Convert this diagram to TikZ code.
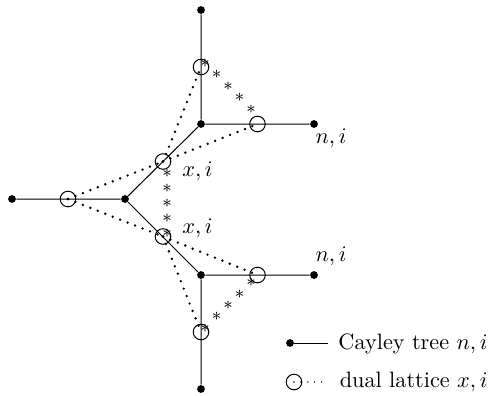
\documentclass[tikz,border=0pt]{standalone}
\usepackage{amsmath,amssymb}

\begin{document}
\begin{tikzpicture}[x=0.0158cm,y=0.0158cm,line width=0.45pt,
  site/.style={circle,fill=black,inner sep=0pt,minimum size=3.5pt},
  dual/.style={draw,circle,inner sep=0pt,minimum size=7pt},
  dualbond/.style={line width=1.2pt,line cap=round,dash pattern=on 0pt off 3.6pt},
  legbond/.style={line width=0.7pt,line cap=round,dash pattern=on 0pt off 3.1pt},
  ast/.style={inner sep=0pt,font=\footnotesize}]
\path[use as bounding box] (0,0) rectangle (488,395);
% Cayley tree
\begin{scope}
\node[site] (nl) at (12,196) {}; \node[site] (nc) at (125,196) {};
\node[site] (nu) at (201,271) {}; \node[site] (nd) at (201,120) {};
\node[site] (nt) at (201,385) {}; \node[site] (nb) at (201,6) {};
\node[site] (nur) at (314,271) {}; \node[site] (ndr) at (314,120) {};
\draw (nl)--(nc) (nc)--(nu) (nc)--(nd) (nu)--(nt) (nu)--(nur) (nd)--(nb) (nd)--(ndr);
\node (lnu) at (331,256.5) {$n,i$};
\node (lnd) at (331,138.5) {$n,i$};
\end{scope}
% dual lattice
\begin{scope}
\node[dual] (xl) at (68,196) {};
\node[dual] (xu) at (163,233.5) {}; \node[dual] (xd) at (163,158.5) {};
\node[dual] (xt) at (201,328) {}; \node[dual] (xur) at (257.5,271) {};
\node[dual] (xb) at (201,63) {}; \node[dual] (xdr) at (257.5,120) {};
\foreach \a/\b in {xl/xu,xl/xd,xu/xt,xu/xur,xd/xb,xd/xdr} {\draw[dualbond] (\a.center)--(\b.center);}
\foreach \i in {0,...,4} {
  \node[ast] (su\i) at ({205+11.5*\i},{332-11.5*\i}) {$\ast$};
  \node[ast] (sm\i) at (167,{222-15*\i}) {$\ast$};
  \node[ast] (sd\i) at ({205+11.5*\i},{67+11.3*\i}) {$\ast$};}
\node (lxu) at (197.5,223.5) {$x,i$};
\node (lxd) at (197.5,166.5) {$x,i$};
\end{scope}
% legend
\begin{scope}
\node[site] (ltree) at (290,52) {}; \coordinate (ltreeend) at (328,52);
\draw (ltree)--(ltreeend);
\node[anchor=base east,inner xsep=0pt] (ltreetext) at (488,46) {Cayley tree $n,i$};
\node[dual] (ldual) at (294,13) {}; \coordinate (ldualend) at (326,13);
\draw[legbond] (ldual.center)--(ldualend);
\node[anchor=base east,inner xsep=0pt] (ldualtext) at (488,8) {dual lattice $x,i$};
\end{scope}
\end{tikzpicture}
\end{document}
